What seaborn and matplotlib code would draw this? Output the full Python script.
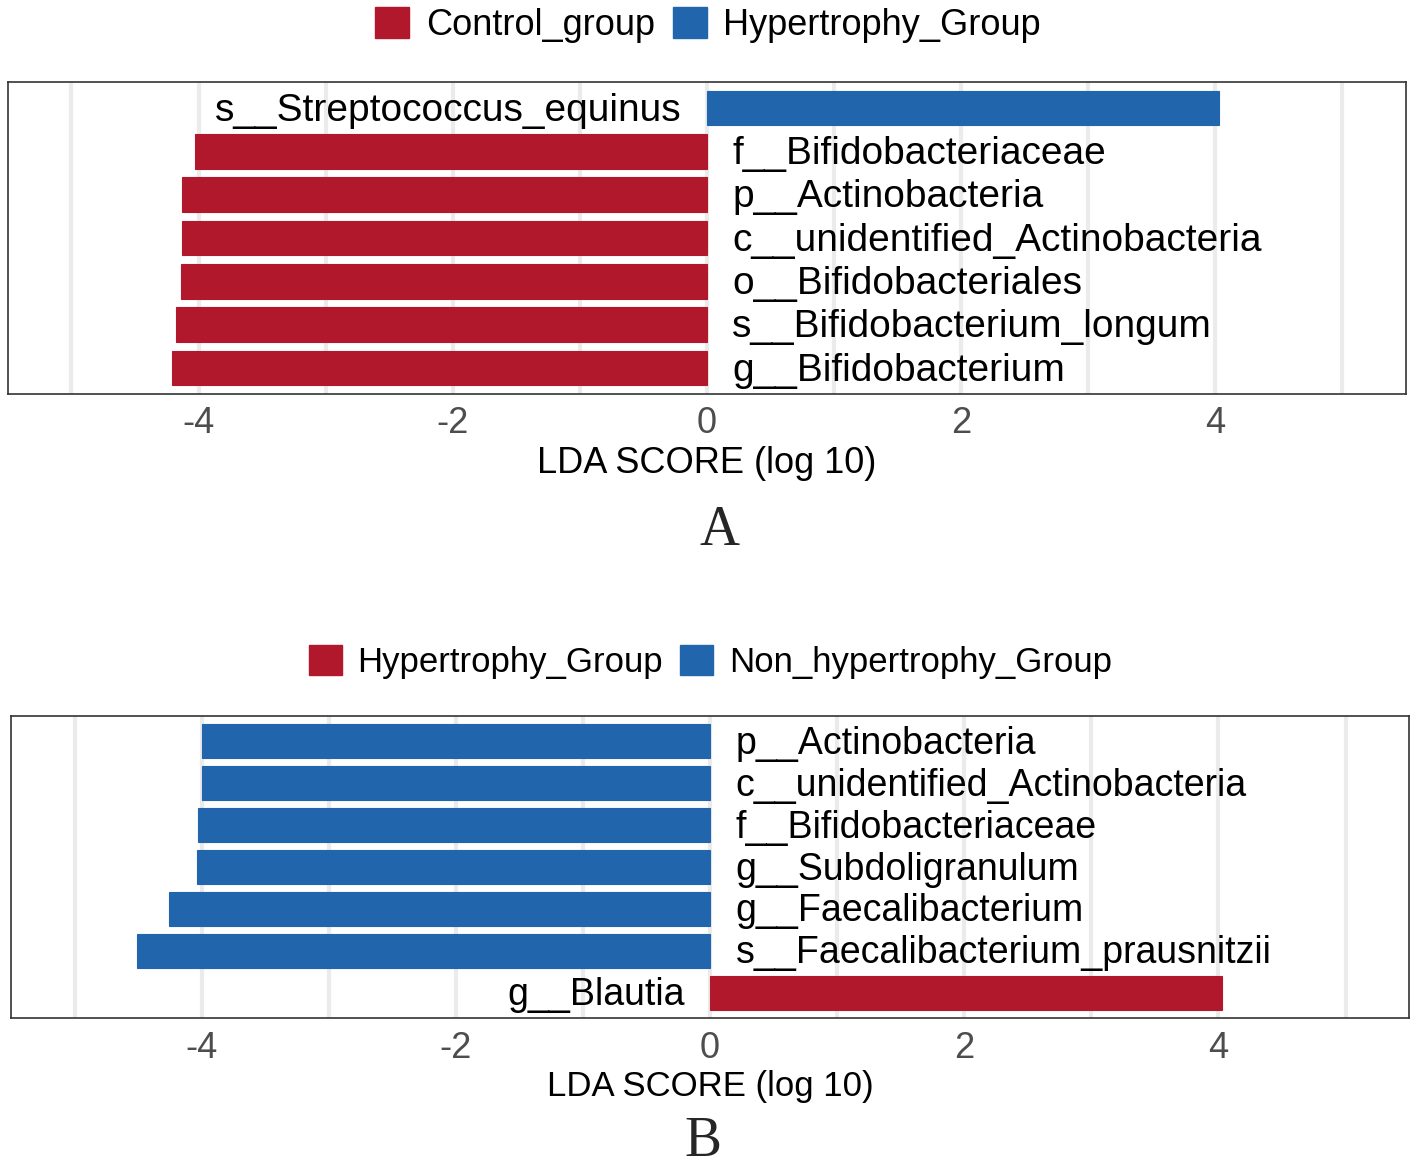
import matplotlib
matplotlib.use("Agg")
import matplotlib.pyplot as plt
from matplotlib.patches import Patch
import seaborn as sns
import pandas as pd

# panel A
taxa_a = [
    "s__Streptococcus_equinus",
    "f__Bifidobacteriaceae",
    "p__Actinobacteria",
    "c__unidentified_Actinobacteria",
    "o__Bifidobacteriales",
    "s__Bifidobacterium_longum",
    "g__Bifidobacterium",
]
lda_a = [4.03, -4.03, -4.13, -4.13, -4.14, -4.18, -4.21]
group_a = ["Hypertrophy_Group"] + ["Control_group"] * 6
groups_a = ["Control_group", "Hypertrophy_Group"]

# panel B
taxa_b = [
    "p__Actinobacteria",
    "c__unidentified_Actinobacteria",
    "f__Bifidobacteriaceae",
    "g__Subdoligranulum",
    "g__Faecalibacterium",
    "s__Faecalibacterium_prausnitzii",
    "g__Blautia",
]
lda_b = [-4.00, -4.00, -4.03, -4.04, -4.26, -4.51, 4.03]
group_b = ["Non_hypertrophy_Group"] * 6 + ["Hypertrophy_Group"]
groups_b = ["Hypertrophy_Group", "Non_hypertrophy_Group"]

RED = "#B2182B"
BLUE = "#2166AC"

sns.set_style("white")
plt.rcParams["font.family"] = ["Liberation Sans", "DejaVu Sans"]

fig = plt.figure(figsize=(14.17, 11.66), dpi=100)


def lda_panel(ax, taxa, lda, group, groups, fs):
    df = pd.DataFrame({"taxon": taxa, "lda": lda, "group": group})
    sns.barplot(data=df, x="lda", y="taxon", hue="group", hue_order=groups,
                palette=[RED, BLUE], dodge=False, width=0.8, orient="h",
                legend=False, ax=ax, saturation=1, linewidth=0.8)
    for p in ax.patches:
        p.set_edgecolor(p.get_facecolor())
    for i, (name, v) in enumerate(zip(taxa, lda)):
        if v < 0:
            ax.text(0.2, i + 0.06, name, ha="left", va="center", fontsize=fs, color="black")
        else:
            ax.text(-0.2, i + 0.06, name, ha="right", va="center", fontsize=fs, color="black")
    ax.set_xlim(-5.5, 5.5)
    ax.set_ylim(6.6, -0.6)
    ax.set_xticks([-4, -2, 0, 2, 4])
    ax.set_xticklabels(["-4", "-2", "0", "2", "4"])
    ax.set_xticks(range(-5, 6), minor=True)
    ax.grid(axis="x", which="both", color="#EBEBEB", linewidth=3)
    ax.set_axisbelow(True)
    ax.set_yticks([])
    ax.set_ylabel("")
    ax.set_xlabel("LDA SCORE (log 10)", fontsize=fs - 2, color="black", labelpad=3)
    ax.tick_params(axis="x", which="major", length=6, width=1.5, color="#333333",
                   labelsize=26, labelcolor="#4D4D4D", pad=3)
    ax.tick_params(axis="x", which="minor", length=0)
    for s in ax.spines.values():
        s.set_visible(True)
        s.set_color("#333333")
        s.set_linewidth(1.2)
    handles = [Patch(facecolor=RED, edgecolor=RED), Patch(facecolor=BLUE, edgecolor=BLUE)]
    return handles


ax_a = fig.add_axes([0.0056, 0.6621, 0.9866, 0.2676])
h = lda_panel(ax_a, taxa_a, lda_a, group_a, groups_a, 28)
fig.legend(h, groups_a, loc="center", bbox_to_anchor=(0.4997, 0.9786), ncol=2,
           frameon=False, fontsize=26, labelcolor="black", handlelength=0.95,
           handleheight=0.95, handletextpad=0.45, columnspacing=0.5)
fig.text(0.508, 0.5326, "A", family="Liberation Serif", fontsize=40,
         ha="center", va="baseline")

ax_b = fig.add_axes([0.0078, 0.1269, 0.9866, 0.2590])
h = lda_panel(ax_b, taxa_b, lda_b, group_b, groups_b, 27)
fig.legend(h, groups_b, loc="center", bbox_to_anchor=(0.5014, 0.4322), ncol=2,
           frameon=False, fontsize=25, labelcolor="black", handlelength=0.95,
           handleheight=0.95, handletextpad=0.45, columnspacing=0.5)
fig.text(0.496, 0.009, "B", family="Liberation Serif", fontsize=40,
         ha="center", va="baseline")

fig.savefig("out.png", dpi=100)
